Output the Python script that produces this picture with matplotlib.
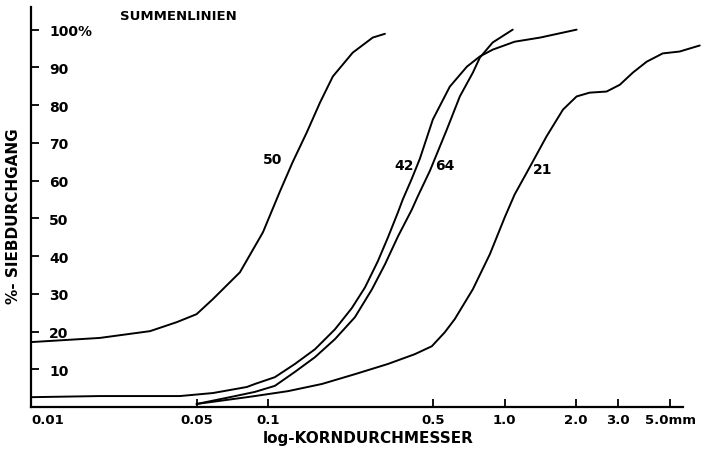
import matplotlib
matplotlib.use("Agg")
import matplotlib.pyplot as plt

# Summenlinien (Siebdurchgang in % über Korndurchmesser in mm)
x_50 = [0.01, 0.0195, 0.0318, 0.0413, 0.05, 0.0586, 0.0762, 0.0953, 0.112,
        0.127, 0.146, 0.166, 0.188, 0.228, 0.277, 0.312]
y_50 = [17.2, 18.3, 20.1, 22.5, 24.6, 28.6, 35.7, 46.3, 56.9,
        64.8, 72.8, 80.7, 87.6, 93.9, 97.9, 98.9]

x_42 = [0.01, 0.0195, 0.0425, 0.0586, 0.0815, 0.0881, 0.107, 0.130, 0.158,
        0.192, 0.226, 0.257, 0.291, 0.321, 0.354, 0.371, 0.405, 0.438, 0.497,
        0.586, 0.692, 0.785, 0.889, 1.10, 1.41, 2.01]
y_42 = [2.6, 2.9, 2.9, 3.7, 5.3, 6.1, 7.9, 11.4, 15.3,
        20.6, 26.2, 31.7, 38.6, 44.9, 51.6, 55.0, 60.5, 65.8, 76.2,
        84.9, 90.2, 92.9, 94.7, 96.8, 97.9, 100.0]

x_64 = [0.05, 0.0691, 0.0881, 0.107, 0.130, 0.158, 0.192, 0.233, 0.275,
        0.312, 0.354, 0.405, 0.429, 0.483, 0.569, 0.646, 0.733, 0.785,
        0.889, 1.08]
y_64 = [0.8, 2.6, 4.0, 5.6, 9.3, 13.2, 18.0, 23.8, 31.2,
        37.8, 45.2, 52.3, 55.8, 62.6, 73.5, 82.3, 88.6, 92.6,
        96.6, 100.0]

x_21 = [0.05, 0.0815, 0.0881, 0.1215, 0.169, 0.233, 0.321, 0.417, 0.492,
        0.558, 0.615, 0.733, 0.865, 1.0, 1.10, 1.24, 1.50, 1.76, 2.01,
        2.28, 2.69, 3.06, 3.47, 3.97, 4.64, 5.47, 6.65]
y_21 = [0.8, 2.6, 2.9, 4.2, 6.1, 8.7, 11.4, 14.0, 16.1,
        19.8, 23.3, 31.2, 40.5, 50.3, 56.3, 62.2, 71.7, 78.8, 82.3,
        83.3, 83.6, 85.4, 88.6, 91.5, 93.7, 94.2, 95.8]

curve_names = ["50", "42", "64", "21"]
label_pos = [(0.105, 65.6), (0.377, 64.0), (0.558, 64.0), (1.445, 63.2)]

x_ticks = [0.01, 0.05, 0.1, 0.5, 1.0, 2.0, 3.0, 5.0]
x_ticklabels = ["0.01", "0.05", "0.1", "0.5", "1.0", "2.0", "3.0", "5.0mm"]
y_ticks = [10, 20, 30, 40, 50, 60, 70, 80, 90, 100]
y_ticklabels = ["10", "20", "30", "40", "50", "60", "70", "80", "90", "100%"]

fig = plt.figure(figsize=(7.09, 4.52), dpi=100)
ax = fig.add_axes([31 / 709, 44 / 452, 674 / 709, 400 / 452])

for xs, ys in [(x_50, y_50), (x_42, y_42), (x_64, y_64), (x_21, y_21)]:
    ax.plot(xs, ys, color="black", linewidth=1.4, solid_capstyle="round")

for name, (lx, ly) in zip(curve_names, label_pos):
    ax.text(lx, ly, name, ha="center", va="center", fontsize=10, fontweight="bold")

ax.set_xscale("log")
ax.set_xlim(0.01, 7.0)
ax.set_ylim(0, 106)

ax.spines["top"].set_visible(False)
ax.spines["right"].set_visible(False)
ax.spines["left"].set_linewidth(1.6)
ax.spines["bottom"].set_linewidth(1.6)
ax.spines["bottom"].set_bounds(0.01, 5.65)

ax.set_xticks(x_ticks)
ax.set_xticklabels(x_ticklabels)
ax.xaxis.set_minor_locator(matplotlib.ticker.NullLocator())
ax.tick_params(axis="x", direction="in", length=6, width=1.3, pad=4, labelsize=9.5)
for lbl in ax.get_xticklabels():
    lbl.set_fontweight("bold")
ax.get_xticklabels()[0].set_horizontalalignment("left")

ax.set_yticks(y_ticks)
ax.set_yticklabels(y_ticklabels)
ax.tick_params(axis="y", direction="in", length=6, width=1.3, pad=-13, labelsize=10)
for lbl in ax.get_yticklabels():
    lbl.set_horizontalalignment("left")
    lbl.set_fontweight("bold")

ax.set_xlabel("log-KORNDURCHMESSER", fontsize=11, fontweight="bold")
ax.xaxis.set_label_coords(0.5, -0.058)
ax.set_ylabel("%- SIEBDURCHGANG", fontsize=11, fontweight="bold")
ax.yaxis.set_label_coords(-0.015, 0.48)

fig.text(120 / 709, 1 - 16 / 452, "SUMMENLINIEN", ha="left", va="center",
         fontsize=9.5, fontweight="bold")

fig.savefig("out.png", dpi=100)
plt.close(fig)
